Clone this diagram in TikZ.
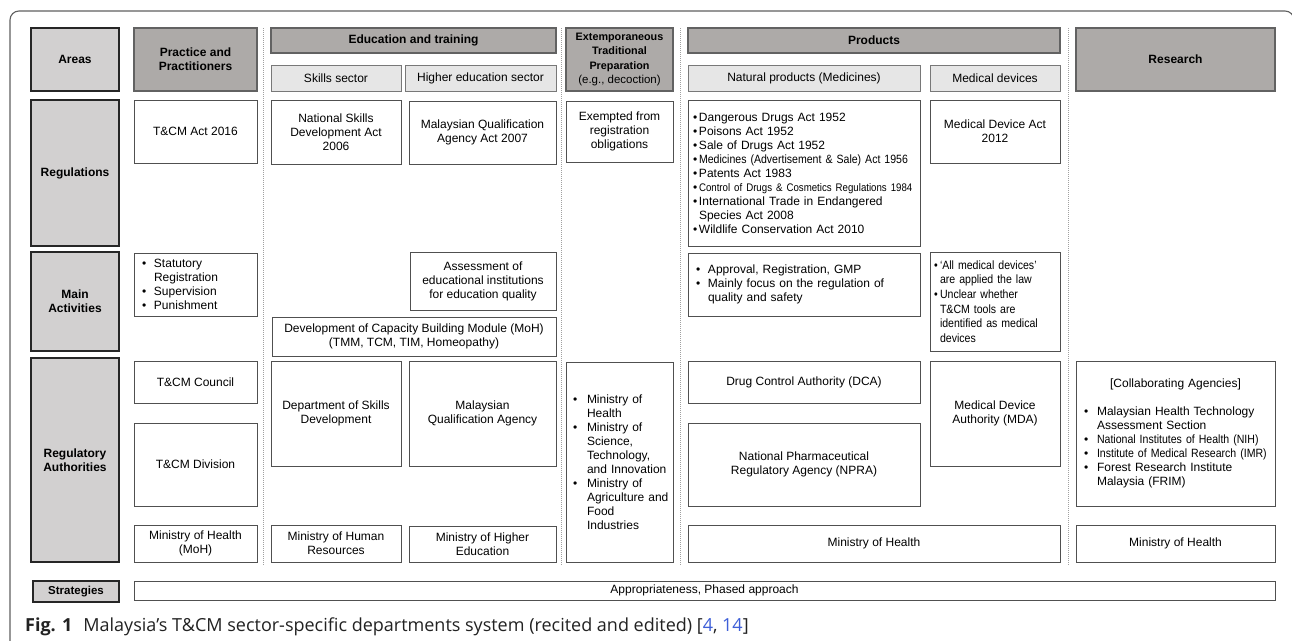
\documentclass[tikz,border=0pt]{standalone}
\usepackage{fontspec}
\setmainfont{Liberation Sans}
\newfontfamily\narrowfont[FakeStretch=0.88]{Liberation Sans}
\newfontfamily\capfont{Open Sans}
\definecolor{hdrfill}{HTML}{ADAAA8}
\definecolor{hdrdraw}{HTML}{626262}
\definecolor{lblfill}{HTML}{D2D0D0}
\definecolor{subfill}{HTML}{E6E6E6}
\definecolor{subdraw}{HTML}{787878}
\definecolor{boxdraw}{HTML}{505050}
\definecolor{sepcol}{HTML}{A0A0A0}
\definecolor{frmcol}{HTML}{606060}
\definecolor{refcol}{HTML}{3E5FD8}
\definecolor{capcol}{HTML}{222222}
\tikzset{
  base/.style={inner sep=0pt, outer sep=0pt, align=center, text=black,
    font=\fontsize{12}{14}\selectfont},
  lblbox/.style={base, draw=black!85, line width=1.5pt, fill=lblfill,
    font=\bfseries\fontsize{12}{14}\selectfont},
  hdrbox/.style={base, draw=hdrdraw, line width=1.2pt, fill=hdrfill,
    font=\bfseries\fontsize{12}{14}\selectfont},
  subbox/.style={base, draw=subdraw, line width=1pt, fill=subfill},
  cbox/.style={base, draw=boxdraw, line width=0.9pt, fill=white},
  sepline/.style={draw=sepcol, line width=0.8pt, dash pattern=on 1pt off 1pt},
  frame/.style={draw=frmcol, line width=1.1pt, rounded corners=9pt}
}
\newcommand\bx[7]{\node[#2,minimum width={#5-#3},minimum height={#6-#4}] (#1) at ({(#3+#5)/2},{(#4+#6)/2}) {#7};}
\newcommand\lbx[8]{\pgfmathsetmacro\lbxw{#5-#3-2*#7}\node[#2,align=left,inner xsep=#7pt,text width=\lbxw pt,minimum width={#5-#3},minimum height={#6-#4}] (#1) at ({(#3+#5)/2},{(#4+#6)/2}) {\rightskip=-40pt plus 1fil\relax #8};}
\newcommand\bl[1]{\makebox[#1][l]{•}}
\newcommand\ci[1]{\hspace*{#1}}
\begin{document}
\begin{tikzpicture}[x=1pt,y=-1pt]
\useasboundingbox (0,0) rectangle (1292,640);
\fill[white] (0,0) rectangle (1292,640);
\begin{scope}
\clip (0,0) rectangle (1292,640);
\draw[frame, overlay] (10,646) -- (10,11) -- (1294,11) -- (1294,60);
\end{scope}
% separators
\draw[sepline] (263,28) -- (263,565);
\draw[sepline] (561,28) -- (561,565);
\draw[sepline] (680,28) -- (680,565);
\draw[sepline] (1068,28) -- (1068,565);
% row 1: areas
\bx{areas}{lblbox}{31}{28}{119}{91}{Areas}
\bx{practice}{hdrbox}{134}{28}{257}{91}{Practice and\\Practitioners}
\bx{edu}{hdrbox}{271}{28}{556}{53}{Education and training}
\bx{skills}{subbox}{271}{65}{401}{91}{Skills sector}
\bx{higher}{subbox}{405}{65}{556}{91}{Higher education sector}
\bx{extemp}{hdrbox,font=\bfseries\fontsize{10.8}{14.5}\selectfont}{566}{28}{673}{91}{Extemporaneous\\Traditional\\Preparation\\{\mdseries\fontsize{11.5}{14.5}\selectfont(e.g., decoction)}}
\bx{products}{hdrbox}{688}{28}{1060}{53}{Products}
\bx{natural}{subbox}{688}{65}{920}{91}{Natural products (Medicines)}
\bx{meddev}{subbox}{930}{65}{1060}{91}{Medical devices}
\bx{research}{hdrbox}{1076}{28}{1275}{91}{Research}
% row 2: regulations
\bx{regs}{lblbox}{31}{100}{119}{246}{Regulations}
\bx{tcmact}{cbox}{134}{100}{257}{163}{T\&CM Act 2016}
\bx{nsda}{cbox}{271}{100}{401}{164}{National Skills\\Development Act\\2006}
\bx{mqaact}{cbox}{409}{101}{556}{164}{Malaysian Qualification\\Agency Act 2007}
\bx{exempt}{cbox}{566}{101}{673}{162}{Exempted from\\registration\\obligations}
\lbx{acts}{cbox}{688}{100}{920}{246}{5}{\bl{6pt}Dangerous Drugs Act 1952\\
\bl{6pt}Poisons Act 1952\\
\bl{6pt}Sale of Drugs Act 1952\\
\bl{6pt}{\narrowfont Medicines (Advertisement \& Sale) Act 1956}\\
\bl{6pt}Patents Act 1983\\
\bl{6pt}{\narrowfont\fontsize{11}{14}\selectfont Control of Drugs \& Cosmetics Regulations 1984}\\
\bl{6pt}International Trade in Endangered\\
\ci{6pt}Species Act 2008\\
\bl{6pt}Wildlife Conservation Act 2010}
\bx{mdact}{cbox}{930}{100}{1060}{163}{Medical Device Act\\2012}
% row 3: main activities
\bx{mainact}{lblbox}{31}{252}{119}{351}{Main\\Activities}
\lbx{statreg}{cbox}{134}{253}{257}{316}{8}{\bl{12pt}Statutory\\
\ci{12pt}Registration\\
\bl{12pt}Supervision\\
\bl{12pt}Punishment}
\bx{assess}{cbox}{410}{252}{556}{310}{Assessment of\\educational institutions\\for education quality}
\bx{capacity}{cbox}{272}{317}{556}{356}{Development of Capacity Building Module (MoH)\\(TMM, TCM, TIM, Homeopathy)}
\lbx{approval}{cbox}{688}{253}{920}{316}{8}{\bl{12pt}Approval, Registration, GMP\\
\bl{12pt}Mainly focus on the regulation of\\
\ci{12pt}quality and safety}
\lbx{devact}{cbox,font=\narrowfont\fontsize{12}{14.6}\selectfont}{930}{252}{1060}{351}{4}{\bl{6pt}‘All medical devices’\\
\ci{6pt}are applied the law\\
\bl{6pt}Unclear whether\\
\ci{6pt}T\&CM tools are\\
\ci{6pt}identified as medical\\
\ci{6pt}devices}
% row 4: regulatory authorities
\bx{regauth}{lblbox}{31}{358}{119}{562}{Regulatory\\Authorities}
\bx{council}{cbox}{134}{361}{257}{403}{T\&CM Council}
\bx{division}{cbox}{134}{423}{257}{506}{T\&CM Division}
\bx{mohp}{cbox}{134}{525}{257}{562}{Ministry of Health\\(MoH)}
\bx{dsd}{cbox}{271}{361}{401}{466}{Department of Skills\\Development}
\bx{mqa}{cbox}{409}{361}{556}{466}{Malaysian\\Qualification Agency}
\bx{mohr}{cbox}{271}{525}{401}{562}{Ministry of Human\\Resources}
\bx{mohe}{cbox}{409}{526}{556}{562}{Ministry of Higher\\Education}
\lbx{ministries}{cbox}{566}{362}{673}{562}{7}{\bl{14pt}Ministry of\\
\ci{14pt}Health\\
\bl{14pt}Ministry of\\
\ci{14pt}Science,\\
\ci{14pt}Technology,\\
\ci{14pt}and Innovation\\
\bl{14pt}Ministry of\\
\ci{14pt}Agriculture and\\
\ci{14pt}Food\\
\ci{14pt}Industries}
\bx{dca}{cbox}{688}{361}{920}{403}{Drug Control Authority (DCA)}
\bx{npra}{cbox}{688}{423}{920}{506}{National Pharmaceutical\\Regulatory Agency (NPRA)}
\bx{mda}{cbox}{930}{361}{1060}{466}{Medical Device\\Authority (MDA)}
\bx{mohprod}{cbox}{688}{525}{1060}{562}{Ministry of Health}
\lbx{collab}{cbox}{1076}{361}{1275}{506}{8}{\makebox[\hsize][c]{[Collaborating Agencies]}\\[14pt]
\bl{13pt}Malaysian Health Technology\\
\ci{13pt}Assessment Section\\
\bl{13pt}{\narrowfont National Institutes of Health (NIH)}\\
\bl{13pt}{\narrowfont Institute of Medical Research (IMR)}\\
\bl{13pt}Forest Research Institute\\
\ci{13pt}Malaysia (FRIM)}
\bx{mohres}{cbox}{1076}{525}{1275}{562}{Ministry of Health}
% strategies
\bx{strat}{lblbox,font=\bfseries\fontsize{11.5}{14}\selectfont}{33}{581}{119}{602}{Strategies}
\bx{stratc}{cbox}{134}{581}{1275}{600}{Appropriateness, Phased approach}
% caption
\node[anchor=base west, inner sep=0pt, text=capcol, font=\capfont\fontsize{18}{21}\selectfont] (caption) at (25,631) {\textbf{Fig. 1}\hspace{11pt}Malaysia’s T\&CM sector-specific departments system (recited and edited) [\textcolor{refcol}{4}, \textcolor{refcol}{14}]};
\end{tikzpicture}
\end{document}
